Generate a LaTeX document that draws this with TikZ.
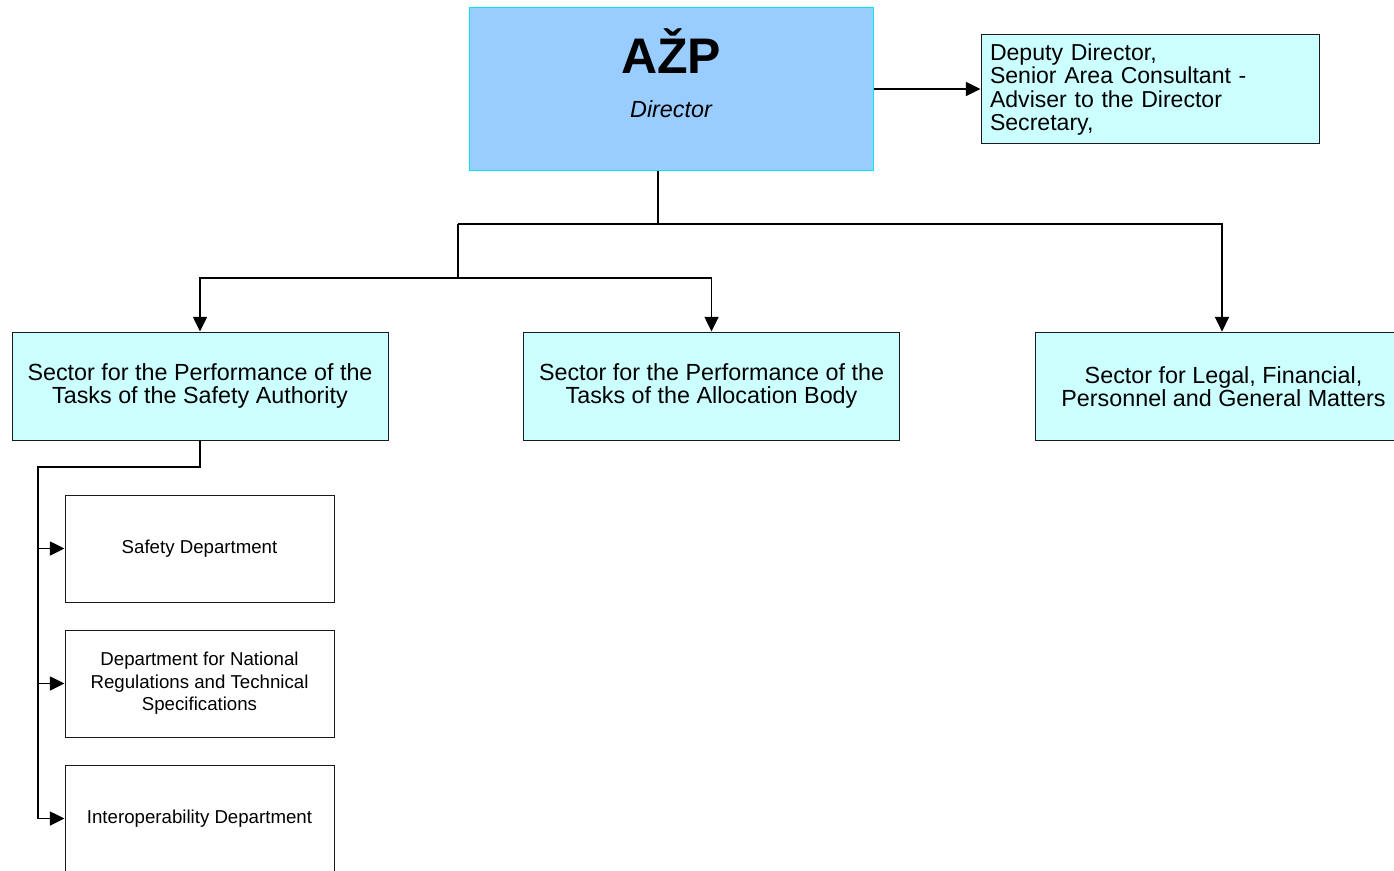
\documentclass[tikz,border=0pt]{standalone}
\usepackage{fontspec}
\setmainfont{Liberation Sans}
\usetikzlibrary{arrows.meta,calc}
\definecolor{dirblue}{HTML}{99CCFF}
\definecolor{lcyan}{HTML}{CCFFFF}
\definecolor{bord}{HTML}{1A1A1A}
\definecolor{brcyan}{HTML}{00E5F0}
\begin{document}
\begin{tikzpicture}[x=0.75pt,y=-0.75pt,
  box/.style={draw=bord,line width=0.75pt,rectangle,inner sep=0pt,align=center},
  sector/.style={box,fill=lcyan,minimum width=282pt,minimum height=81pt,
     font=\fontsize{17.5}{17.3}\selectfont},
  dept/.style={box,fill=white,minimum width=201.75pt,minimum height=80.25pt,
     font=\fontsize{14}{16.9}\selectfont},
  conn/.style={line width=1.1pt,black},
  arr/.style={conn,-{Triangle[length=11pt,width=10.5pt]}}]
\useasboundingbox (0,0) rectangle (1394,870);
\fill[white] (0,0) rectangle (1394,870);
\clip (0,0) rectangle (1394,870);
% director
\node[box,draw=brcyan,fill=dirblue,minimum width=303pt,minimum height=121.5pt] (dir) at (671,89) {};
\node[font=\bfseries\fontsize{37.5}{40}\selectfont,inner sep=0pt] (azp) at (671,51) {AŽP};
\node[font=\itshape\fontsize{17.5}{20}\selectfont,inner sep=0pt] (dirt) at (671,109) {Director};
% deputy
\node[box,fill=lcyan,minimum width=253.5pt,minimum height=81.75pt,text width=240pt,align=left,
  font=\fontsize{17.3}{17.5}\selectfont] (dep) at (1150,89.5)
  {Deputy Director,\\Senior Area Consultant -\\Adviser to the Director\\Secretary,};
% sectors
\node[sector] (s1) at (200,386) {Sector for the Performance of the\\Tasks of the Safety Authority};
\node[sector] (s2) at (711.5,386) {Sector for the Performance of the\\Tasks of the Allocation Body};
\node[sector,line width=1.3pt] (s3) at (1223.5,386.5) {Sector for Legal, Financial,\\Personnel and General Matters};
% departments
\node[dept] (d1) at (199.5,548.5) {Safety Department};
\node[dept] (d2) at (199.5,683.5) {Department for National\\Regulations and Technical\\Specifications};
\node[dept] (d3) at (199.5,818.5) {Interoperability Department};
% connectors
\coordinate (c) at (658,224);
\coordinate (a) at (458,224);
\coordinate (b) at (458,278);
\coordinate (e) at (1222,224);
\coordinate (d) at (38,467);
\draw[arr] (dir.east) -- (dep.west |- dir.east);
\draw[conn] (dir.south -| c) -- (c);
\draw[arr] (a) -- (e) -- (s3.north -| e);
\draw[arr] (a) -- (b) -| (s1.north);
\draw[arr] (b) -| (s2.north);
\draw[conn] (s1.south) |- (d) -- (d |- d3.west);
\draw[arr] (d |- d1.west) -- (d1.west);
\draw[arr] (d |- d2.west) -- (d2.west);
\draw[arr] (d |- d3.west) -- (d3.west);
\end{tikzpicture}
\end{document}
